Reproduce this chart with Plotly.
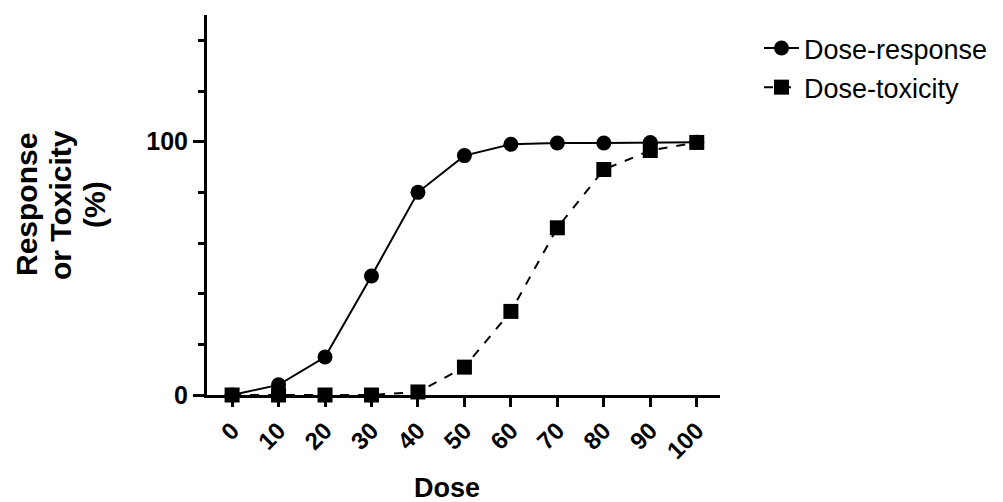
import plotly.graph_objects as go

dose = [0, 10, 20, 30, 40, 50, 60, 70, 80, 90, 100]
response = [0, 4, 15, 47, 80, 94.5, 99, 99.5, 99.5, 99.7, 99.8]
toxicity = [0, 0, 0, 0, 1.2, 11, 33, 66, 89, 96.5, 99.7]

x_ticks = [0, 10, 20, 30, 40, 50, 60, 70, 80, 90, 100]
y_ticks = [0, 100]
y_minor_ticks = [20, 40, 60, 80, 120, 140]
y_title_lines = ["Response", "or Toxicity", "(%)"]

FONT = "Liberation Sans, Arial, sans-serif"
OFF = 8  # page body margin
L, R, T, B = 207, 720, 15, 395  # target plot area in page pixels
W, H = 1003 - OFF, 502 - OFF

def px(xp):
    return (xp - L) / (R - L)

def py(yp):
    return (B - yp) / (B - T)

fig = go.Figure()
fig.add_trace(go.Scatter(
    x=dose, y=response, name="Dose-response", mode="lines+markers",
    legendgroup="a",
    line=dict(color="black", width=2, dash="solid"),
    marker=dict(symbol="circle", size=15, color="black"),
    cliponaxis=False,
))
fig.add_trace(go.Scatter(
    x=dose, y=toxicity, name="Dose-toxicity", mode="lines+markers",
    legendgroup="b",
    line=dict(color="black", width=2, dash="dash"),
    marker=dict(symbol="square", size=15, color="black"),
    cliponaxis=False,
))

annotations = []
for txt, xc in zip(y_title_lines, [26, 60, 94]):
    annotations.append(dict(
        text="<b>%s</b>" % txt, xref="paper", yref="paper",
        x=px(xc), y=py(205), xanchor="center", yanchor="middle",
        textangle=-90, showarrow=False,
        font=dict(family=FONT, size=30, color="black")))
annotations.append(dict(
    text="<b>Dose</b>", xref="paper", yref="paper",
    x=px(447), y=py(488), xanchor="center", yanchor="middle",
    showarrow=False, font=dict(family=FONT, size=27, color="black")))

fig.update_layout(
    width=W, height=H,
    margin=dict(l=L - OFF, r=1003 - R, t=T - OFF, b=502 - B, autoexpand=False),
    paper_bgcolor="white", plot_bgcolor="white",
    showlegend=True,
    legend=dict(x=px(759), xanchor="left", y=py(24), yanchor="top",
                font=dict(family=FONT, size=27, color="black"),
                traceorder="grouped", tracegroupgap=1,
                itemwidth=35, bgcolor="rgba(0,0,0,0)"),
    xaxis=dict(
        range=[-5.4, 105], tickmode="array", tickvals=x_ticks,
        ticktext=[str(v) for v in x_ticks], tickangle=-45,
        ticks="outside", ticklen=9, tickwidth=2.5, tickcolor="black",
        showline=True, linecolor="black", linewidth=3,
        showgrid=False, zeroline=False,
        tickfont=dict(family=FONT, size=24, color="black", weight="bold"),
    ),
    yaxis=dict(
        range=[0, 150], tickmode="array", tickvals=y_ticks,
        ticks="outside", ticklen=11, tickwidth=2.5, tickcolor="black",
        showline=True, linecolor="black", linewidth=3,
        showgrid=False, zeroline=False,
        tickfont=dict(family=FONT, size=25, color="black", weight="bold"),
        minor=dict(tickmode="array", tickvals=y_minor_ticks, ticks="outside",
                   ticklen=6, tickwidth=2.5, tickcolor="black", showgrid=False),
    ),
    annotations=annotations,
)

fig.write_html("out.html")
